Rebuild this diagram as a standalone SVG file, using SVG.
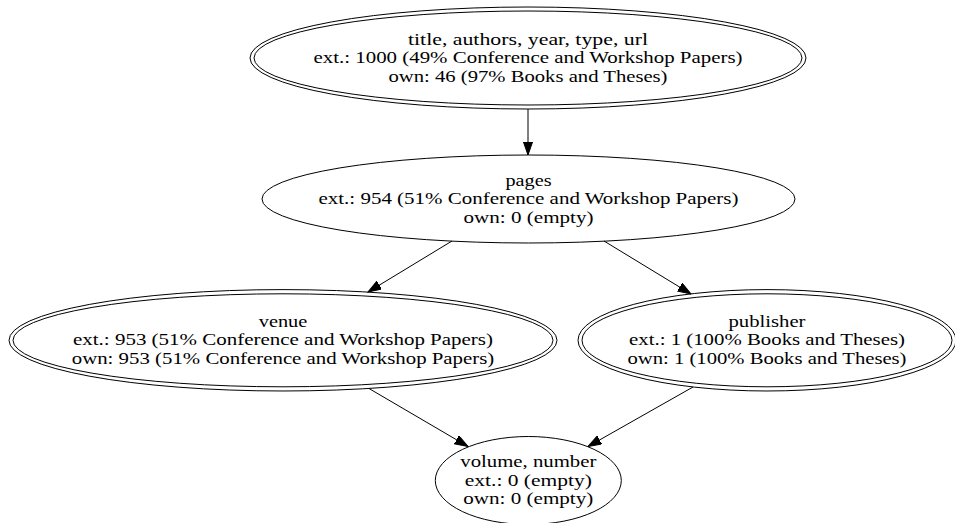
<svg xmlns="http://www.w3.org/2000/svg" width="955" height="523" viewBox="0 0 955 523">
<style>
  .shape { fill: none; stroke: #000; stroke-width: 1; }
  .edge { fill: none; stroke: #000; stroke-width: 1; marker-end: url(#ah); }
  text { font-family: "Liberation Serif", "Times New Roman", serif; font-size: 16px; fill: #000; text-anchor: middle; }
</style>
<defs>
  <marker id="ah" markerWidth="14" markerHeight="10" refX="13.3" refY="4.67" orient="auto" markerUnits="userSpaceOnUse">
    <path d="M0,0 L13.3,4.67 L0,9.33 z" fill="#000" stroke="#000" stroke-width="1"/>
  </marker>
</defs>
<rect width="955" height="523" fill="#fff"/>
<g id="connectors">
  <line class="edge" x1="528" y1="109" x2="528" y2="155"/>
  <line class="edge" x1="452" y1="241" x2="368" y2="292"/>
  <line class="edge" x1="604" y1="241" x2="691" y2="294"/>
  <line class="edge" x1="369" y1="388.5" x2="468" y2="446.5"/>
  <line class="edge" x1="693" y1="387" x2="588" y2="446.5"/>
</g>
<g id="node-title">
  <ellipse class="shape" cx="528" cy="58" rx="278" ry="51"/>
  <ellipse class="shape" cx="528" cy="58" rx="274" ry="47"/>
  <text x="528" y="44.5" textLength="240" lengthAdjust="spacingAndGlyphs">title, authors, year, type, url</text>
  <text x="528" y="63" textLength="429" lengthAdjust="spacingAndGlyphs">ext.: 1000 (49% Conference and Workshop Papers)</text>
  <text x="528" y="81.5" textLength="279" lengthAdjust="spacingAndGlyphs">own: 46 (97% Books and Theses)</text>
</g>
<g id="node-pages">
  <ellipse class="shape" cx="528.5" cy="199" rx="266.5" ry="44"/>
  <text x="528.5" y="185.5" textLength="46" lengthAdjust="spacingAndGlyphs">pages</text>
  <text x="528.5" y="204" textLength="420" lengthAdjust="spacingAndGlyphs">ext.: 954 (51% Conference and Workshop Papers)</text>
  <text x="528.5" y="222.5" textLength="130" lengthAdjust="spacingAndGlyphs">own: 0 (empty)</text>
</g>
<g id="node-venue">
  <ellipse class="shape" cx="283" cy="340.3" rx="274" ry="50.7"/>
  <ellipse class="shape" cx="283" cy="340.3" rx="270" ry="46.5"/>
  <text x="283" y="326.5" textLength="48.5" lengthAdjust="spacingAndGlyphs">venue</text>
  <text x="283" y="345" textLength="420" lengthAdjust="spacingAndGlyphs">ext.: 953 (51% Conference and Workshop Papers)</text>
  <text x="283" y="363.5" textLength="422.5" lengthAdjust="spacingAndGlyphs">own: 953 (51% Conference and Workshop Papers)</text>
</g>
<g id="node-publisher">
  <ellipse class="shape" cx="767" cy="340.3" rx="189" ry="50.7"/>
  <ellipse class="shape" cx="767" cy="340.3" rx="185" ry="46.5"/>
  <text x="767" y="326.5" textLength="77" lengthAdjust="spacingAndGlyphs">publisher</text>
  <text x="767" y="345" textLength="276" lengthAdjust="spacingAndGlyphs">ext.: 1 (100% Books and Theses)</text>
  <text x="767" y="363.5" textLength="279" lengthAdjust="spacingAndGlyphs">own: 1 (100% Books and Theses)</text>
</g>
<g id="node-volume">
  <ellipse class="shape" cx="528.3" cy="480.5" rx="93" ry="44"/>
  <text x="528.3" y="467" textLength="136" lengthAdjust="spacingAndGlyphs">volume, number</text>
  <text x="528.3" y="485.5" textLength="127" lengthAdjust="spacingAndGlyphs">ext.: 0 (empty)</text>
  <text x="528.3" y="504" textLength="130" lengthAdjust="spacingAndGlyphs">own: 0 (empty)</text>
</g>
</svg>
